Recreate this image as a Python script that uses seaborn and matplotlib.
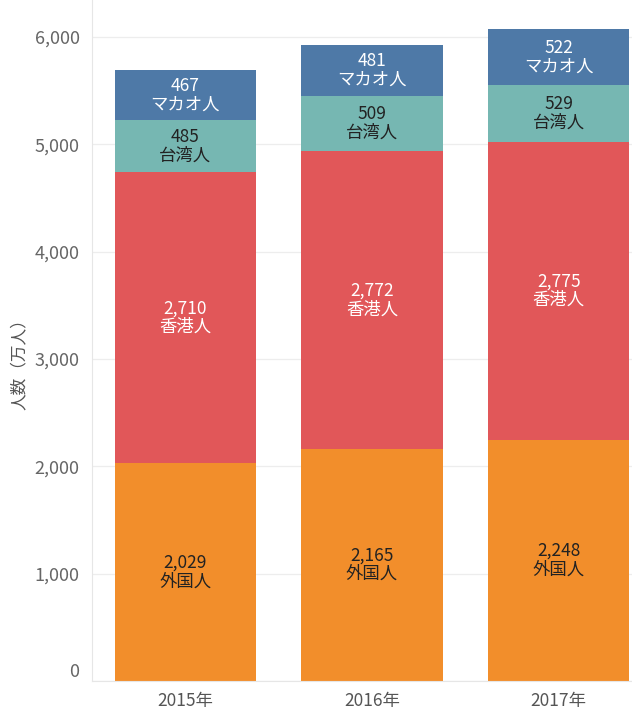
import matplotlib
matplotlib.use("Agg")
import matplotlib.pyplot as plt
import seaborn as sns
import pandas as pd
import numpy as np
from matplotlib.ticker import FuncFormatter

years = ["2015年", "2016年", "2017年"]
groups = ["外国人", "香港人", "台湾人", "マカオ人"]
foreign = [2029, 2165, 2248]
hongkong = [2710, 2772, 2775]
taiwan = [485, 509, 529]
macau = [467, 481, 522]
yticks = [0, 1000, 2000, 3000, 4000, 5000, 6000]

colors = {"外国人": "#F28E2B", "香港人": "#E15759", "台湾人": "#76B7B2", "マカオ人": "#4E79A7"}
text_colors = {"外国人": "#222222", "香港人": "#FFFFFF", "台湾人": "#222222", "マカオ人": "#FFFFFF"}

sns.set_style("white")
plt.rcParams["font.family"] = ["Noto Sans CJK JP", "DejaVu Sans"]

series = {"外国人": foreign, "香港人": hongkong, "台湾人": taiwan, "マカオ人": macau}
df = pd.DataFrame(series, index=years)
cum = df.cumsum(axis=1)

fig = plt.figure(figsize=(6.32, 7.14), dpi=100)
W, H = 632, 714
ax = fig.add_axes([92 / W, (H - 681) / H, (632 - 92) / W, 681 / H])

for g in reversed(groups):
    sns.barplot(x=years, y=cum[g].values, color=colors[g], width=0.756,
                saturation=1, ax=ax, zorder=2, linewidth=0, edgecolor="none")

for i, yr in enumerate(years):
    base = 0
    for g in groups:
        v = df.loc[yr, g]
        mid = base + v / 2
        ax.text(i, mid, f"{v:,}\n{g}", ha="center", va="center",
                color=text_colors[g], fontsize=12.5, linespacing=1.05, zorder=3)
        base += v

ax.set_ylim(0, 6345)
ax.set_xlim(-0.5, 2.5 - 20 / 186.5)
ax.set_yticks(yticks)
ax.yaxis.set_major_formatter(FuncFormatter(lambda v, p: f"{int(v):,}"))
ax.grid(axis="y", color="#EDEDED", linewidth=0.9, zorder=0)
ax.set_axisbelow(True)
ax.tick_params(axis="y", length=0, pad=9, labelsize=13, labelcolor="#666666")
ax.tick_params(axis="x", length=0, pad=8, labelsize=12.5, labelcolor="#555555")
ax.set_xticks([-0.5, 0.5, 1.5], minor=True)
ax.tick_params(axis="x", which="minor", length=7, color="#E6E6E6", width=0.9)
for s in ["top", "right"]:
    ax.spines[s].set_visible(False)
ax.spines["left"].set_color("#E6E6E6")
ax.spines["bottom"].set_color("#E6E6E6")
ax.set_xlabel("")
ax.set_ylabel("")
fig.text(19 / W, 1 - 360 / H, "人数（万人）", rotation=90, ha="center", va="center",
         fontsize=12, color="#555555")
fig.canvas.draw()
ax.get_yticklabels()[0].set_va("bottom")

fig.savefig("out.png", dpi=100)
